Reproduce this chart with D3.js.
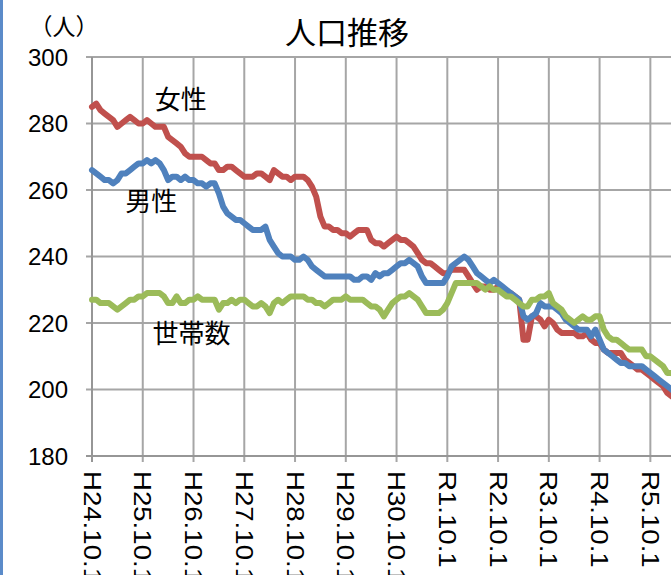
<!DOCTYPE html>
<html><head><meta charset="utf-8">
<script src="https://cdn.jsdelivr.net/npm/d3@7"></script>
<style>body{margin:0;background:#fff;overflow:hidden} svg{display:block}</style>
</head><body><svg id="c" width="671" height="575"></svg>
<script>
// Monthly values from H24.10 onward (index 0 = H24.10)
const women = [285,286,284,283,282,281,279,280,281,282,281,280,280,281,280,279,279,279,276,275,
274,273,271,270,270,270,270,269,268,268,266,266,267,267,266,265,264,264,264,265,
265,264,263,266,265,264,264,263,264,264,264,263,261,258,252,249,249,248,248,247,
247,246,247,248,248,248,245,244,244,243,244,245,246,245,245,244,243,241,239,238,
238,237,236,235,235,236,236,236,236,234,232,230,231,231,230,230,231,230,229,229,
228,227,215,215,222,222,221,219,221,220,218,217,217,217,217,216,216,217,215,214,
214,212,211,211,211,211,209,208,207,206,206,205,204,203,202,201,199,198,197,197];
const men = [266,265,264,263,263,262,263,265,265,266,267,268,268,269,268,269,268,266,263,264,
264,263,264,263,263,262,262,261,262,262,259,255,253,252,251,251,250,249,248,248,
248,249,245,243,241,240,240,240,239,239,240,239,237,236,235,234,234,234,234,234,
234,234,233,233,234,234,233,235,234,235,235,236,237,238,238,239,238,237,234,232,
232,232,232,232,234,237,238,239,240,239,237,235,234,233,232,233,232,231,230,229,
228,227,222,221,222,223,226,225,225,225,224,223,221,220,219,218,218,218,216,218,
215,212,211,210,209,208,208,207,207,207,207,206,205,204,203,202,201,200,199,199];
const households = [227,227,226,226,226,225,224,225,226,227,227,228,228,229,229,229,229,228,226,226,
228,226,226,227,227,228,227,227,227,227,224,226,226,227,226,227,227,226,225,225,
226,225,223,226,227,226,227,228,228,228,228,227,227,226,226,225,226,227,227,227,
228,227,227,227,227,226,225,225,224,222,224,226,227,228,228,229,228,227,225,223,
223,223,223,224,226,229,232,232,232,232,232,232,231,230,231,230,230,229,228,228,
227,226,225,225,227,227,228,228,229,226,225,224,222,221,220,221,222,221,221,222,
222,218,216,215,215,214,213,212,212,212,212,210,210,209,208,207,205,205,204,204];
const tickLabels = ["H24.10.1","H25.10.1","H26.10.1","H27.10.1","H28.10.1","H29.10.1",
"H30.10.1","R1.10.1","R2.10.1","R3.10.1","R4.10.1","R5.10.1"];
const tickMonths = [0,12,24,36,48,60,72,84,96,108,120,132];
const yTicks = [180,200,220,240,260,280,300];
const seriesNames = ["女性","男性","世帯数"];
const seriesColors = ["#C0504D","#4F81BD","#9BBB59"];
const labelAnchors = [[21,287.8],[14,257],[23.5,217.3]]; // data coords for series labels

const svg = d3.select("#c");
const x = d3.scaleLinear().domain([0,137]).range([92,671.5]);
const y = d3.scaleLinear().domain([180,300]).range([456,57]);
const W = 671;
const grid = "#A6A6A6";
const font = "'Liberation Sans', Arial, sans-serif";
const cjk = "'Noto Sans CJK JP', sans-serif";

// left border
svg.append("rect").attr("x",0).attr("y",0).attr("width",3).attr("height",575).attr("fill","#5B8BC9");

// horizontal gridlines
svg.append("g").selectAll("line").data(yTicks).join("line")
  .attr("x1",86).attr("x2",W).attr("y1",d=>y(d)).attr("y2",d=>y(d))
  .attr("stroke",grid).attr("stroke-width",2);
// vertical gridlines
svg.append("g").selectAll("line").data(tickMonths).join("line")
  .attr("x1",d=>x(d)).attr("x2",d=>x(d)).attr("y1",y(300)).attr("y2",y(180)+6)
  .attr("stroke",grid).attr("stroke-width",2);
// axes
svg.append("line").attr("x1",x(0)).attr("x2",x(0)).attr("y1",y(300)).attr("y2",y(180)+6)
  .attr("stroke","#969696").attr("stroke-width",2);
svg.append("line").attr("x1",86).attr("x2",W).attr("y1",y(180)).attr("y2",y(180))
  .attr("stroke","#969696").attr("stroke-width",2);

// y tick labels
svg.append("g").selectAll("text").data(yTicks).join("text")
  .attr("x",68).attr("y",d=>y(d)).attr("text-anchor","end").attr("dominant-baseline","central")
  .attr("font-family",font).attr("font-size",24).attr("fill","#000").text(d=>d);

// x tick labels rotated
svg.append("g").selectAll("text").data(tickMonths).join("text")
  .attr("transform",(d)=>`translate(${x(d)},471) rotate(90) scale(1.15,1)`)
  .attr("text-anchor","start").attr("dominant-baseline","central")
  .attr("font-family",font).attr("font-size",24).attr("fill","#000")
  .text((d,i)=>tickLabels[i]);

// lines
const line = d3.line().x((d,i)=>x(i)).y(d=>y(d));
[women,men,households].forEach((arr,k)=>{
  svg.append("path").datum(arr).attr("d",line).attr("fill","none")
    .attr("stroke",seriesColors[k]).attr("stroke-width",6)
    .attr("stroke-linejoin","round").attr("stroke-linecap","round");
});

// series labels
seriesNames.forEach((n,k)=>{
  svg.append("text").attr("x",x(labelAnchors[k][0])).attr("y",y(labelAnchors[k][1]))
    .attr("text-anchor","middle").attr("dominant-baseline","central")
    .attr("font-family",cjk).attr("font-size",26).attr("fill","#000").text(n);
});

// title and unit
svg.append("text").attr("x",347).attr("y",30).attr("text-anchor","middle").attr("dominant-baseline","central")
  .attr("font-family",cjk).attr("font-size",31).attr("fill","#000").text("人口推移");
svg.append("text").attr("x",64).attr("y",25).attr("text-anchor","middle").attr("dominant-baseline","central")
  .attr("font-family",cjk).attr("font-size",23).attr("fill","#000").text("（人）");
</script></body></html>
